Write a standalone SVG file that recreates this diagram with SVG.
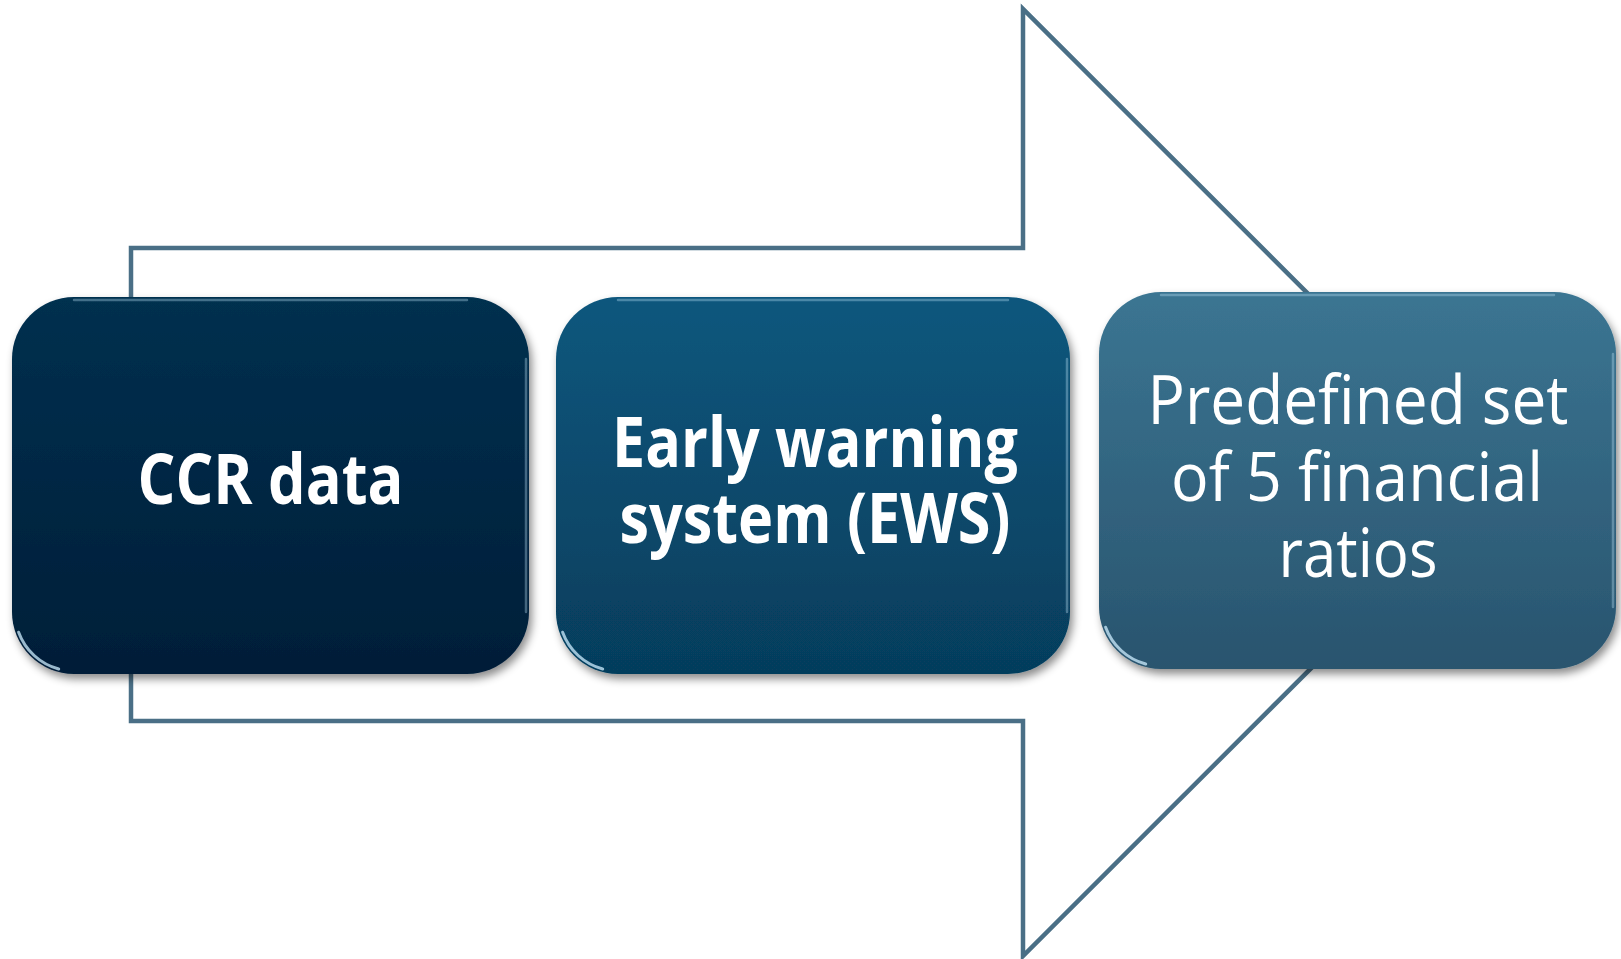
<svg xmlns="http://www.w3.org/2000/svg" width="1621" height="959" viewBox="0 0 1621 959">
<style>
.t{fill:#ffffff;font-family:"Open Sans","Liberation Sans",sans-serif;text-anchor:middle}
.b{font-weight:bold;font-size:70px}
.r{font-weight:normal;font-size:68px}
.hl{fill:none;stroke:#bfe6fa;stroke-opacity:0.35;stroke-width:2.5;stroke-linecap:round}
.hc{fill:none;stroke:#cdeeff;stroke-opacity:0.75;stroke-width:3;stroke-linecap:round}
</style>
<defs>
<linearGradient id="g1" x1="0" y1="0" x2="0" y2="1"><stop offset="0" stop-color="#04304f"/><stop offset="1" stop-color="#011e38"/></linearGradient>
<linearGradient id="g2" x1="0" y1="0" x2="0" y2="1"><stop offset="0" stop-color="#0b577d"/><stop offset="1" stop-color="#063d5c"/></linearGradient>
<linearGradient id="g3" x1="0" y1="0" x2="0" y2="1"><stop offset="0" stop-color="#3b7592"/><stop offset="1" stop-color="#29546e"/></linearGradient>
<filter id="sh" x="-10%" y="-10%" width="125%" height="130%"><feDropShadow dx="3" dy="5" stdDeviation="4" flood-color="#000" flood-opacity="0.45"/></filter>
</defs>
<g id="connectors">
<path d="M131,248 H1023 V9 L1497,482.5 L1023,956 V721 H131 Z" fill="#ffffff" stroke="#4a6f86" stroke-width="4.5" stroke-linejoin="miter"/>
</g>
<g id="node1">
<rect x="12" y="297" width="517" height="377" rx="62" fill="url(#g1)" filter="url(#sh)"/>
<path class="hl" d="M74,300 H467"/>
<path class="hl" d="M526,359 V612"/>
<path class="hc" d="M18.6,632.2 A59,59 0 0 0 58.7,669"/>
<text class="t b" x="270.5" y="504" textLength="266" lengthAdjust="spacingAndGlyphs">CCR data</text>
</g>
<g id="node2">
<rect x="556" y="297" width="514" height="377" rx="62" fill="url(#g2)" filter="url(#sh)"/>
<path class="hl" d="M618,300 H1008"/>
<path class="hl" d="M1067,359 V612"/>
<path class="hc" d="M562.6,632.2 A59,59 0 0 0 602.7,669"/>
<text class="t b" x="815" y="467" textLength="406" lengthAdjust="spacingAndGlyphs">Early warning</text>
<text class="t b" x="815" y="543" textLength="391" lengthAdjust="spacingAndGlyphs">system (EWS)</text>
</g>
<g id="node3">
<rect x="1099" y="292" width="517" height="377" rx="62" fill="url(#g3)" filter="url(#sh)"/>
<path class="hl" d="M1161,295 H1554"/>
<path class="hl" d="M1613,354 V607"/>
<path class="hc" d="M1105.6,627.2 A59,59 0 0 0 1145.7,664"/>
<text class="t r" x="1358" y="424" textLength="421" lengthAdjust="spacingAndGlyphs">Predefined set</text>
<text class="t r" x="1357" y="501" textLength="372" lengthAdjust="spacingAndGlyphs">of 5 financial</text>
<text class="t r" x="1358" y="577" textLength="159" lengthAdjust="spacingAndGlyphs">ratios</text>
</g>
</svg>
